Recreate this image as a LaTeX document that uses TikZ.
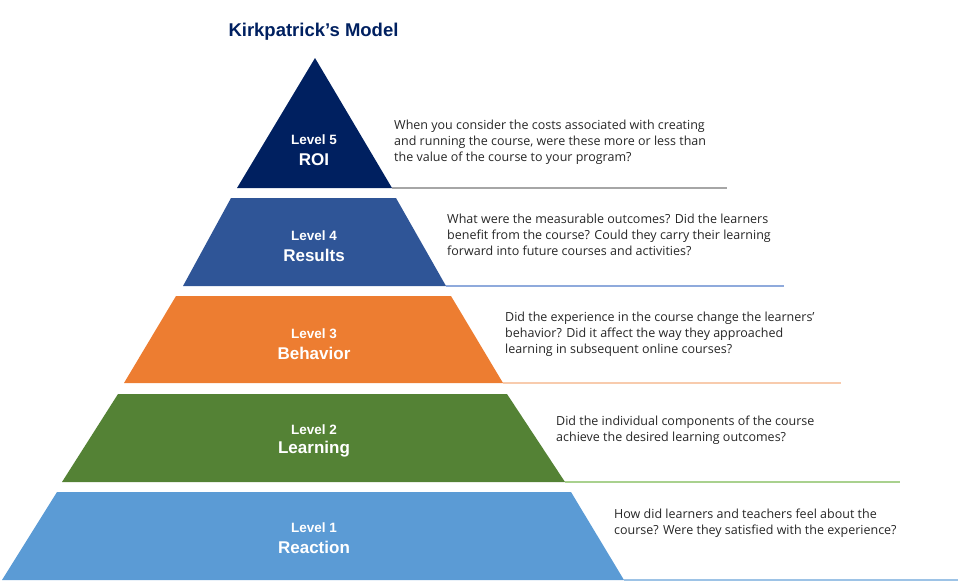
\documentclass[tikz,border=0pt]{standalone}
\usepackage{fontspec}
\setmainfont{Open Sans}
\newfontfamily\labelfont{Liberation Sans}
\definecolor{roiblue}{HTML}{002060}
\definecolor{resultsblue}{HTML}{2F5597}
\definecolor{behaviororange}{HTML}{ED7D31}
\definecolor{learninggreen}{HTML}{548235}
\definecolor{reactionblue}{HTML}{5B9BD5}
\definecolor{roiline}{HTML}{A6A6A6}
\definecolor{resultsline}{HTML}{8FAADC}
\definecolor{behaviorline}{HTML}{F8CBAD}
\definecolor{learningline}{HTML}{A9D18E}
\definecolor{reactionline}{HTML}{9DC3E6}
\definecolor{questiontext}{HTML}{262626}
\tikzset{
	title/.style={font=\labelfont\bfseries\fontsize{18.5}{22}\selectfont, text=roiblue, inner sep=0pt},
	levelno/.style={font=\labelfont\bfseries\fontsize{13.5}{16}\selectfont, text=white, inner sep=0pt},
	levelname/.style={font=\labelfont\bfseries\fontsize{17}{20}\selectfont, text=white, inner sep=0pt},
	question/.style={font=\fontsize{12.5}{16}\selectfont, text=questiontext, align=left, inner sep=0pt, anchor=north west}
}
\begin{document}
\begin{tikzpicture}[x=1pt, y=-1pt]
	\useasboundingbox (0,0) rectangle (960,582);
	%title
	\node[title] (title) at (313.5,32) {Kirkpatrick’s Model};
	%pyramid
	\foreach \n/\top/\bot/\tl/\tr/\bl/\br/\ex/\col/\lcol in {
		5/58/188/315/315/237/392/727/roiblue/roiline,
		4/198/286/231/396/183/446/784/resultsblue/resultsline,
		3/296/383/176/451/124/503/841/behaviororange/behaviorline,
		2/394/482/118/507/62/565/900/learninggreen/learningline,
		1/492/580/57/571/2/624/958/reactionblue/reactionline}
	{
		\fill[\col] (\tl,\top) -- (\tr,\top) -- (\br,\bot) -- (\bl,\bot) -- cycle;
		\coordinate (base\n) at (\br,\bot);
		\coordinate (end\n) at (\ex,\bot);
		\draw[\lcol, line width=1.2pt] (base\n) -- (end\n);
	}
	%labels
	\foreach \n/\y/\name in {
		5/140/ROI,
		4/236/Results,
		3/334/Behavior,
		2/430/Learning,
		1/528/Reaction}
	{
		\node[levelno] (level\n) at (314,\y) {Level \n};
		\node[levelname] (name\n) at (314,\y+19.5) {\name};
	}
	%questions
	\node[question] (q5) at (394,120) {When you consider the costs associated with creating\\
		and running the course, were these more or less than\\
		the value of the course to your program?};
	\node[question] (q4) at (447,214) {What were the measurable outcomes? Did the learners\\
		benefit from the course? Could they carry their learning\\
		forward into future courses and activities?};
	\node[question] (q3) at (505,311.5) {Did the experience in the course change the learners’\\
		behavior? Did it affect the way they approached\\
		learning in subsequent online courses?};
	\node[question] (q2) at (556,416) {Did the individual components of the course\\
		achieve the desired learning outcomes?};
	\node[question] (q1) at (614,509) {How did learners and teachers feel about the\\
		course? Were they satisfied with the experience?};
\end{tikzpicture}
\end{document}
